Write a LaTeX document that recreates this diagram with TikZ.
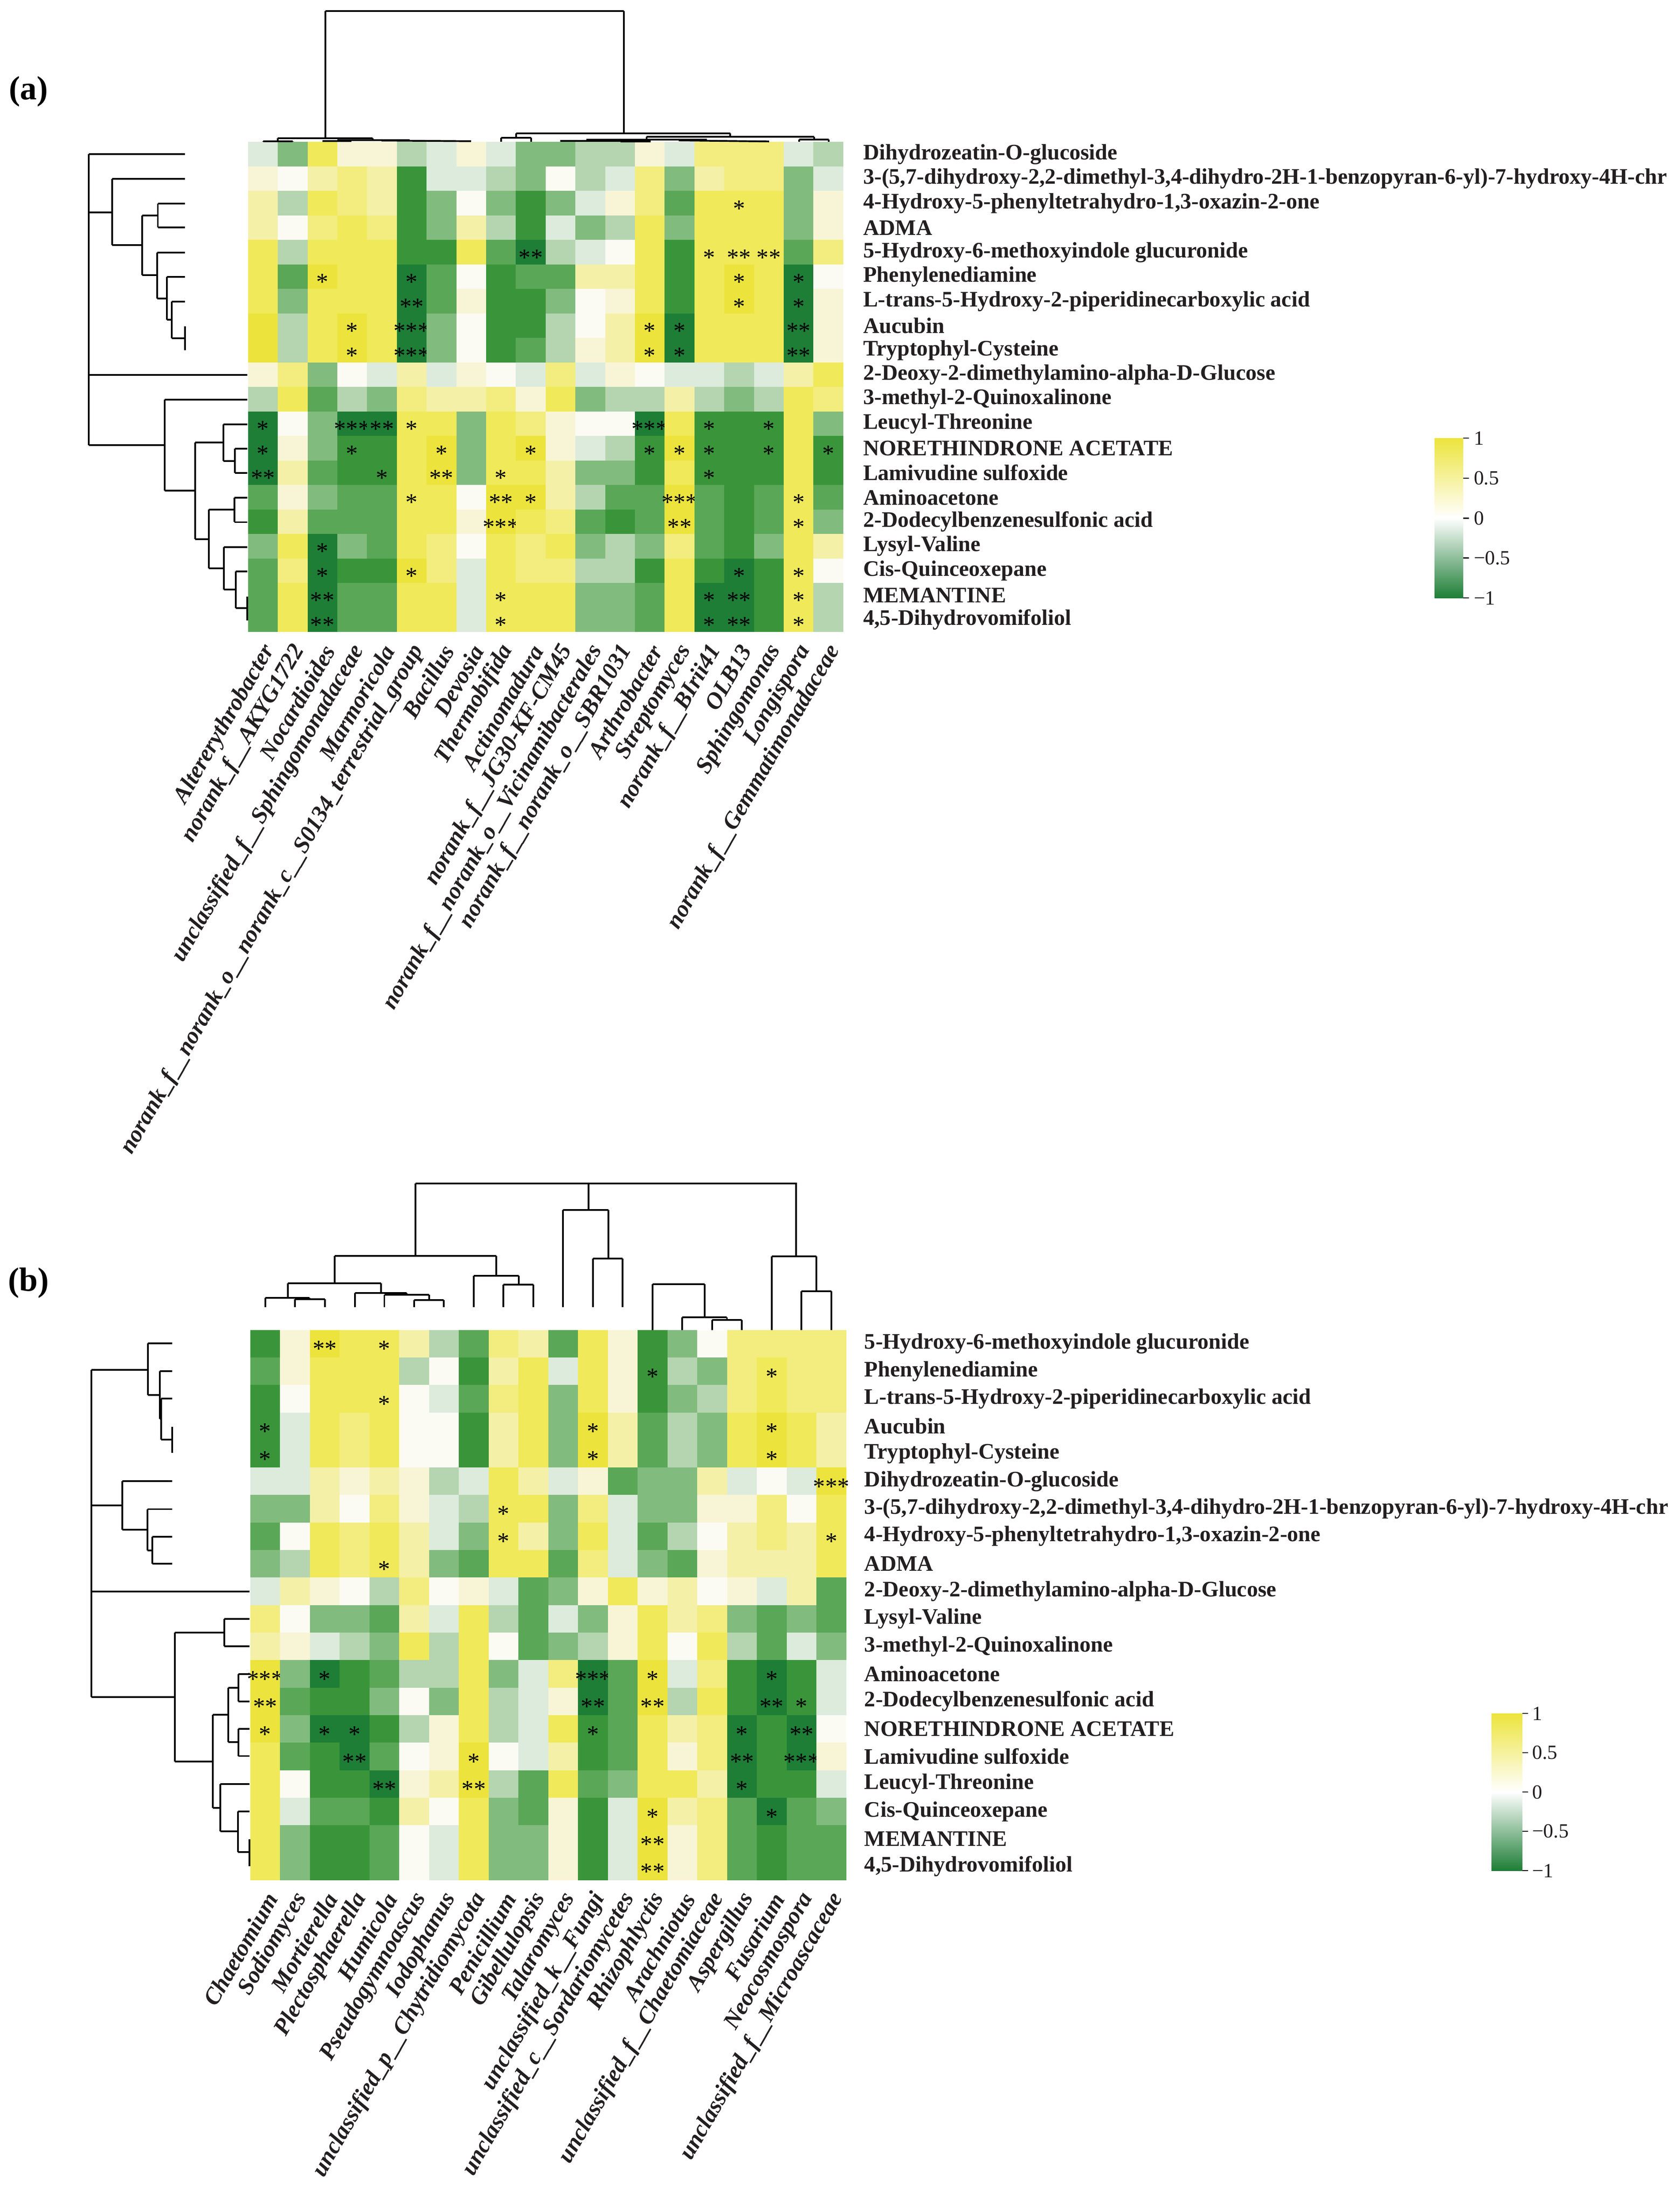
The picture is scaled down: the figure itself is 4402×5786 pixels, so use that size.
\documentclass[tikz,border=0pt]{standalone}
\usepackage{fontspec}
\setmainfont{Liberation Serif}
\definecolor{hmA}{HTML}{1E7E36}
\definecolor{hmB}{HTML}{3A953A}
\definecolor{hmC}{HTML}{5AA757}
\definecolor{hmD}{HTML}{82BB7E}
\definecolor{hmE}{HTML}{B4D5B0}
\definecolor{hmF}{HTML}{DCEBDC}
\definecolor{hmW}{HTML}{FBFBF3}
\definecolor{hmG}{HTML}{F8F5D6}
\definecolor{hmH}{HTML}{F4F0A8}
\definecolor{hmI}{HTML}{F2ED7E}
\definecolor{hmJ}{HTML}{F0E95A}
\definecolor{hmK}{HTML}{ECE43C}
\definecolor{txt}{HTML}{231F20}
\def\hmparse#1#2\end{\def\hmC{#1}\def\hmS{#2}}
\newcommand\hmstars[1]{\ifcase#1\or*\or**\or***\fi}
\newcommand\hmrows[5]{% x0, ytop, cw, rh, rows
 \foreach \r [count=\i] in {#5} {
  \foreach \t [count=\j] in \r {
   \expandafter\hmparse\t\end
   \fill[fill=hm\hmC] ({#1+(\j-1)*#3},{#2+(\i-1)*#4}) rectangle ++(#3,#4);
   \ifx\hmS\empty\else
    \node[starn] at ({#1+(\j-0.5)*#3},{#2+(\i-0.5)*#4}) {\hmstars{\hmS}};
   \fi
  }}}
\begin{document}
\begin{tikzpicture}[x=0.01cm,y=-0.01cm,
 starn/.style={inner sep=0pt,yshift=-4pt,font=\fontsize{18}{18}\selectfont},
 rowlab/.style={anchor=west,inner sep=0pt,text=txt,font=\fontsize{16.5}{18}\selectfont\bfseries},
 collab/.style={anchor=east,rotate=60,inner sep=0pt,text=txt,font=\fontsize{17.5}{19}\selectfont\bfseries\itshape},
 tick/.style={anchor=west,inner sep=0pt,text=txt,font=\fontsize{15}{17}\selectfont},
 panel/.style={inner sep=0pt,font=\fontsize{25}{28}\selectfont\bfseries},
 dend/.style={line width=1.3pt}]
\useasboundingbox (0,0) rectangle (4402,5786);
\fill[white] (0,0) rectangle (4402,5786);

% ---------------- panel (a)
\node[panel] (pa) at (75,240) {(a)};
\hmrows{650}{372}{78}{64.2}{
{F,D,J,G,G,E,F,G,F,D,D,E,E,G,F,I,I,I,F,E},
{G,W,H,I,H,B,F,F,E,D,W,E,F,I,D,H,I,I,D,F},
{H,E,J,I,H,B,D,W,D,B,D,F,G,I,C,J,J1,J,D,G},
{H,W,I,J,I,B,D,H,E,B,F,D,E,J,D,J,J,J,D,G},
{J,E,J,J,J,B,B,J,C,A2,E,F,W,J,B,J1,J2,J2,C,I},
{J,C,K1,J,J,A1,C,W,B,C,C,H,H,J,B,J,K1,J,A1,W},
{J,D,J,J,J,A2,C,G,B,B,D,W,G,J,B,J,K1,J,A1,G},
{K,E,J,K1,J,A3,D,W,B,B,E,W,H,K1,A1,J,J,J,A2,G},
{K,E,J,K1,J,A3,D,W,B,C,E,G,H,K1,A1,J,J,J,A2,G},
{G,I,D,W,F,H,F,G,W,F,I,F,G,W,F,F,E,F,H,J},
{E,J,C,E,D,I,H,H,I,G,J,D,E,E,H,E,D,E,J,I},
{A1,W,D,A3,A2,J1,J,D,J,I,G,W,W,A3,J,B1,B,B1,J,D},
{A1,G,D,B1,B,J,K1,D,J,K1,G,F,E,B1,K1,B1,B,B1,J,B1},
{A2,H,C,B,B1,J,K2,D,J1,J,H,D,D,B,J,B1,B,B,J,B},
{C,G,D,C,C,J1,J,W,K2,K1,H,E,C,C,K3,C,B,C,J1,C},
{B,H,C,C,C,J,J,G,K3,J,I,C,B,C,K2,C,B,C,J1,D},
{D,J,A1,D,C,J,I,W,J,I,J,D,E,D,I,C,B,D,J,H},
{C,I,A1,B,B,K1,I,F,J,I,I,E,E,B,J,B,A1,B,J1,W},
{C,J,A2,C,C,J,J,F,J1,J,J,D,D,C,J,A1,A2,B,J1,E},
{C,J,A2,C,C,J,J,F,J1,J,J,D,D,C,J,A1,A2,B,J1,E}}
\foreach \l [count=\i] in {{Dihydrozeatin-O-glucoside},{3-(5,7-dihydroxy-2,2-dimethyl-3,4-dihydro-2H-1-benzopyran-6-yl)-7-hydroxy-4H-chr},{4-Hydroxy-5-phenyltetrahydro-1,3-oxazin-2-one},{ADMA},{5-Hydroxy-6-methoxyindole glucuronide},{Phenylenediamine},{L-trans-5-Hydroxy-2-piperidinecarboxylic acid},{Aucubin},{Tryptophyl-Cysteine},{2-Deoxy-2-dimethylamino-alpha-D-Glucose},{3-methyl-2-Quinoxalinone},{Leucyl-Threonine},{NORETHINDRONE ACETATE},{Lamivudine sulfoxide},{Aminoacetone},{2-Dodecylbenzenesulfonic acid},{Lysyl-Valine},{Cis-Quinceoxepane},{MEMANTINE},{4,5-Dihydrovomifoliol}}
  \node[rowlab] (ra\i) at (2262,{372+(\i-0.5)*64.2}) {\l};
\foreach \l [count=\j] in {{Altererythrobacter},{norank\_f\_\_AKYG1722},{Nocardioides},{unclassified\_f\_\_Sphingomonadaceae},{Marmoricola},{norank\_f\_\_norank\_o\_\_norank\_c\_\_S0134\_terrestrial\_group},{Bacillus},{Devosia},{Thermobifida},{Actinomadura},{norank\_f\_\_JG30-KF-CM45},{norank\_f\_\_norank\_o\_\_Vicinamibacterales},{norank\_f\_\_norank\_o\_\_SBR1031},{Arthrobacter},{Streptomyces},{norank\_f\_\_BIrii41},{OLB13},{Sphingomonas},{Longispora},{norank\_f\_\_Gemmatimonadaceae}}
  \node[collab] (ca\j) at ({650+(\j-0.5)*78+18},1695) {\l};
% top dendrogram (a)
\begin{scope}[shift={(600,0)},xscale=1.0526,yscale=0.3333,dend]
\draw (240,87)--(983,87);
\draw (240,87)--(240,1087) (122,1087)--(358,1087) (122,1087)--(122,1110) (85,1110)--(159,1110) (85,1110)--(85,1115) (159,1110)--(159,1115);
\draw (358,1087)--(358,1102) (270,1102)--(450,1102) (233,1109)--(305,1109) (380,1105)--(603,1110);
\draw (983,87)--(983,1048) (715,1048)--(1248,1048) (715,1048)--(715,1083) (678,1083)--(752,1083) (678,1083)--(678,1115) (752,1083)--(752,1115);
\draw (1248,1048)--(1248,1075) (1040,1075)--(1457,1075) (1040,1075)--(1040,1098) (825,1108)--(1050,1108) (890,1098)--(1190,1098) (975,1112)--(1050,1112) (1120,1104)--(1345,1112);
\draw (1457,1075)--(1457,1098) (1420,1098)--(1494,1098) (1420,1098)--(1420,1115) (1494,1098)--(1494,1115);
\end{scope}
% left dendrogram (a)
\begin{scope}[shift={(150,360)},xscale=0.3317,yscale=0.8354,dend]
\draw (250,52)--(250,965) (250,52)--(1010,52);
\draw (250,235)--(435,235) (435,130)--(435,338) (435,130)--(1010,130) (435,338)--(670,338);
\draw (670,245)--(670,432) (670,245)--(795,245) (795,207)--(795,283) (795,207)--(1010,207) (795,283)--(1010,283);
\draw (670,432)--(790,432) (790,362)--(790,505) (790,362)--(1010,362) (790,505)--(868,505) (868,438)--(868,572) (868,438)--(1010,438) (868,572)--(905,572) (905,515)--(905,630) (905,515)--(1010,515) (905,630)--(1010,630) (1010,593)--(1010,667);
\draw (250,745)--(1500,745);
\draw (250,965)--(848,965) (848,823)--(848,1108) (848,823)--(1500,823) (848,1108)--(1090,1108) (1090,957)--(1090,1260) (1090,957)--(1312,957) (1312,900)--(1312,1015) (1312,900)--(1500,900) (1312,1015)--(1403,1015) (1403,977)--(1403,1053) (1403,977)--(1500,977) (1403,1053)--(1500,1053);
\draw (1090,1260)--(1198,1260) (1198,1168)--(1198,1352) (1198,1168)--(1400,1168) (1400,1130)--(1400,1207) (1400,1130)--(1500,1130) (1400,1207)--(1500,1207) (1198,1352)--(1315,1352) (1315,1285)--(1315,1418) (1315,1285)--(1500,1285) (1315,1418)--(1410,1418) (1410,1362)--(1410,1476) (1410,1362)--(1500,1362) (1410,1476)--(1500,1476) (1500,1440)--(1500,1515);
\end{scope}
% colorbar (a)
\shade[top color=hmK,bottom color=hmA,middle color=white] (3760,1148) rectangle (3835,1567);
\foreach \v/\t [count=\k] in {1148/1,1253/0.5,1358/0,1462/−0.5,1567/−1}{
  \draw[line width=0.8pt] (3835,\v)--(3850,\v);
  \node[tick] (ta\k) at (3862,\v) {\t};}

% ---------------- panel (b)
\node[panel] (pb) at (75,3362) {(b)};
\hmrows{656}{3485}{78.1}{72.1}{
{B,G,K2,J,J1,H,E,C,I,H,C,J,G,B,D,W,I,I,I,I},
{C,G,J,J,J,E,W,B,H,J,F,J,G,B1,E,D,I,J1,I,I},
{B,W,J,J,J1,W,F,C,I,J,D,J,G,B,D,E,I,J,I,I},
{B1,F,J,I,J,W,W,B,H,J,D,K1,H,C,E,D,J,K1,J,H},
{B1,F,J,I,J,W,W,B,H,J,D,K1,H,C,E,D,J,K1,J,H},
{F,F,H,G,H,G,E,F,J,H,F,G,C,D,D,H,F,W,F,K3},
{D,D,H,W,I,G,F,E,J1,J,D,I,F,D,D,G,G,I,W,J},
{C,W,J,I,J,H,F,D,J1,H,D,J,F,C,E,W,H,I,H,J1},
{D,E,J,I,J1,H,D,C,J,J,C,I,F,D,C,G,H,H,H,J},
{F,H,G,W,E,I,W,G,F,C,D,G,J,G,H,W,G,F,H,C},
{I,W,D,D,C,H,F,J,E,C,F,D,G,J,H,I,D,C,D,C},
{H,G,F,E,D,J,E,J,W,C,D,E,G,J,W,J,E,C,F,D},
{K3,D,A1,B,C,E,E,J,D,F,I,A3,C,K1,F,I,B,A1,B,F},
{K2,C,B,B,D,W,D,J,E,F,G,A2,C,K2,E,J,B,A2,B1,F},
{K1,D,A1,A1,B,E,G,J,E,F,J,B1,C,J,H,I,A1,B,A2,W},
{J,C,B,A2,C,W,G,K1,W,F,H,B,C,J,G,I,A2,B,A3,G},
{J,W,B,B,A2,G,H,K2,E,C,J,C,D,J,J,H,A1,B,B,F},
{J,F,C,C,B,H,W,J,D,C,G,B,F,K1,H,I,C,A1,C,D},
{J,D,B,B,C,W,F,J,D,D,G,B,F,K2,G,I,C,B,C,C},
{J,D,B,B,C,W,F,J,D,D,G,B,F,K2,G,I,C,B,C,C}}
\foreach \l [count=\i] in {{5-Hydroxy-6-methoxyindole glucuronide},{Phenylenediamine},{L-trans-5-Hydroxy-2-piperidinecarboxylic acid},{Aucubin},{Tryptophyl-Cysteine},{Dihydrozeatin-O-glucoside},{3-(5,7-dihydroxy-2,2-dimethyl-3,4-dihydro-2H-1-benzopyran-6-yl)-7-hydroxy-4H-chr},{4-Hydroxy-5-phenyltetrahydro-1,3-oxazin-2-one},{ADMA},{2-Deoxy-2-dimethylamino-alpha-D-Glucose},{Lysyl-Valine},{3-methyl-2-Quinoxalinone},{Aminoacetone},{2-Dodecylbenzenesulfonic acid},{NORETHINDRONE ACETATE},{Lamivudine sulfoxide},{Leucyl-Threonine},{Cis-Quinceoxepane},{MEMANTINE},{4,5-Dihydrovomifoliol}}
  \node[rowlab] (rb\i) at (2265,{3485+(\i-0.5)*72.1}) {\l};
\foreach \l [count=\j] in {{Chaetomium},{Sodiomyces},{Mortierella},{Plectosphaerella},{Humicola},{Pseudogymnoascus},{Iodophanus},{unclassified\_p\_\_Chytridiomycota},{Penicillium},{Gibellulopsis},{Talaromyces},{unclassified\_k\_\_Fungi},{unclassified\_c\_\_Sordariomycetes},{Rhizophlyctis},{Arachniotus},{unclassified\_f\_\_Chaetomiaceae},{Aspergillus},{Fusarium},{Neocosmospora},{unclassified\_f\_\_Microascaceae}}
  \node[collab] (cb\j) at ({656+(\j-0.5)*78.1+18},4965) {\l};
% top dendrogram (b)
\begin{scope}[shift={(640,3080)},xscale=1.0204,yscale=0.3333,dend]
\draw (440,63)--(1420,63) (440,63)--(440,632) (885,63)--(885,272) (1417,63)--(1417,638);
\draw (232,632)--(647,632) (232,632)--(232,848) (112,848)--(351,848) (112,848)--(112,962) (54,962)--(168,962) (54,962)--(54,1035) (168,962)--(168,975) (130,975)--(207,975) (130,975)--(130,1035) (207,975)--(207,1035);
\draw (351,848)--(351,925) (285,925)--(417,925) (285,925)--(285,1035) (417,925)--(417,940) (360,940)--(475,940) (360,940)--(360,1035) (475,940)--(475,980) (437,980)--(513,980) (437,980)--(437,1035) (513,980)--(513,1035);
\draw (647,632)--(647,790) (590,790)--(705,790) (590,790)--(590,1035) (705,790)--(705,860) (666,860)--(743,860) (666,860)--(666,1035) (743,860)--(743,1035);
\draw (819,272)--(935,272) (819,272)--(819,1035) (935,272)--(935,655) (896,655)--(972,655) (896,655)--(896,1035) (972,655)--(972,1035);
\draw (1049,855)--(1183,855) (1049,855)--(1049,1215) (1183,855)--(1183,1115) (1125,1115)--(1240,1115) (1125,1115)--(1125,1215) (1240,1115)--(1240,1138) (1202,1138)--(1278,1138) (1202,1138)--(1202,1215) (1278,1138)--(1278,1215);
\draw (1355,638)--(1470,638) (1355,638)--(1355,1215) (1470,638)--(1470,912) (1431,912)--(1508,912) (1431,912)--(1431,1215) (1508,912)--(1508,1215);
\end{scope}
% left dendrogram (b)
\begin{scope}[shift={(150,3470)},xscale=0.3317,yscale=0.9375,dend]
\draw (270,127)--(270,1042);
\draw (270,127)--(718,127) (718,54)--(718,198) (718,54)--(907,54) (718,198)--(810,198) (810,131)--(810,265) (810,131)--(907,131) (810,265)--(820,265) (820,208)--(820,322) (820,208)--(907,208) (820,322)--(907,322) (907,287)--(907,360);
\draw (270,507)--(515,507) (515,439)--(515,574) (515,439)--(907,439) (515,574)--(713,574) (713,517)--(713,632) (713,517)--(907,517) (713,632)--(750,632) (750,594)--(750,669) (750,594)--(907,594) (750,669)--(907,669);
\draw (270,747)--(1520,747);
\draw (270,1042)--(930,1042) (930,862)--(930,1222) (930,862)--(1320,862) (1320,824)--(1320,900) (1320,824)--(1520,824) (1320,900)--(1520,900);
\draw (930,1222)--(1230,1222) (1230,1092)--(1230,1352) (1230,1092)--(1352,1092) (1352,1016)--(1352,1168) (1352,1016)--(1432,1016) (1432,978)--(1432,1054) (1432,978)--(1520,978) (1432,1054)--(1520,1054) (1352,1168)--(1432,1168) (1432,1131)--(1432,1207) (1432,1131)--(1520,1131) (1432,1207)--(1520,1207);
\draw (1230,1352)--(1290,1352) (1290,1285)--(1290,1418) (1290,1285)--(1520,1285) (1290,1418)--(1428,1418) (1428,1362)--(1428,1476) (1428,1362)--(1520,1362) (1428,1476)--(1520,1476) (1520,1440)--(1520,1515);
\end{scope}
% colorbar (b)
\shade[top color=hmK,bottom color=hmA,middle color=white] (3909,4490) rectangle (3990,4902);
\foreach \v/\t [count=\k] in {4490/1,4593/0.5,4696/0,4799/−0.5,4902/−1}{
  \draw[line width=0.8pt] (3990,\v)--(4005,\v);
  \node[tick] (tb\k) at (4015,\v) {\t};}
\end{tikzpicture}
\end{document}
